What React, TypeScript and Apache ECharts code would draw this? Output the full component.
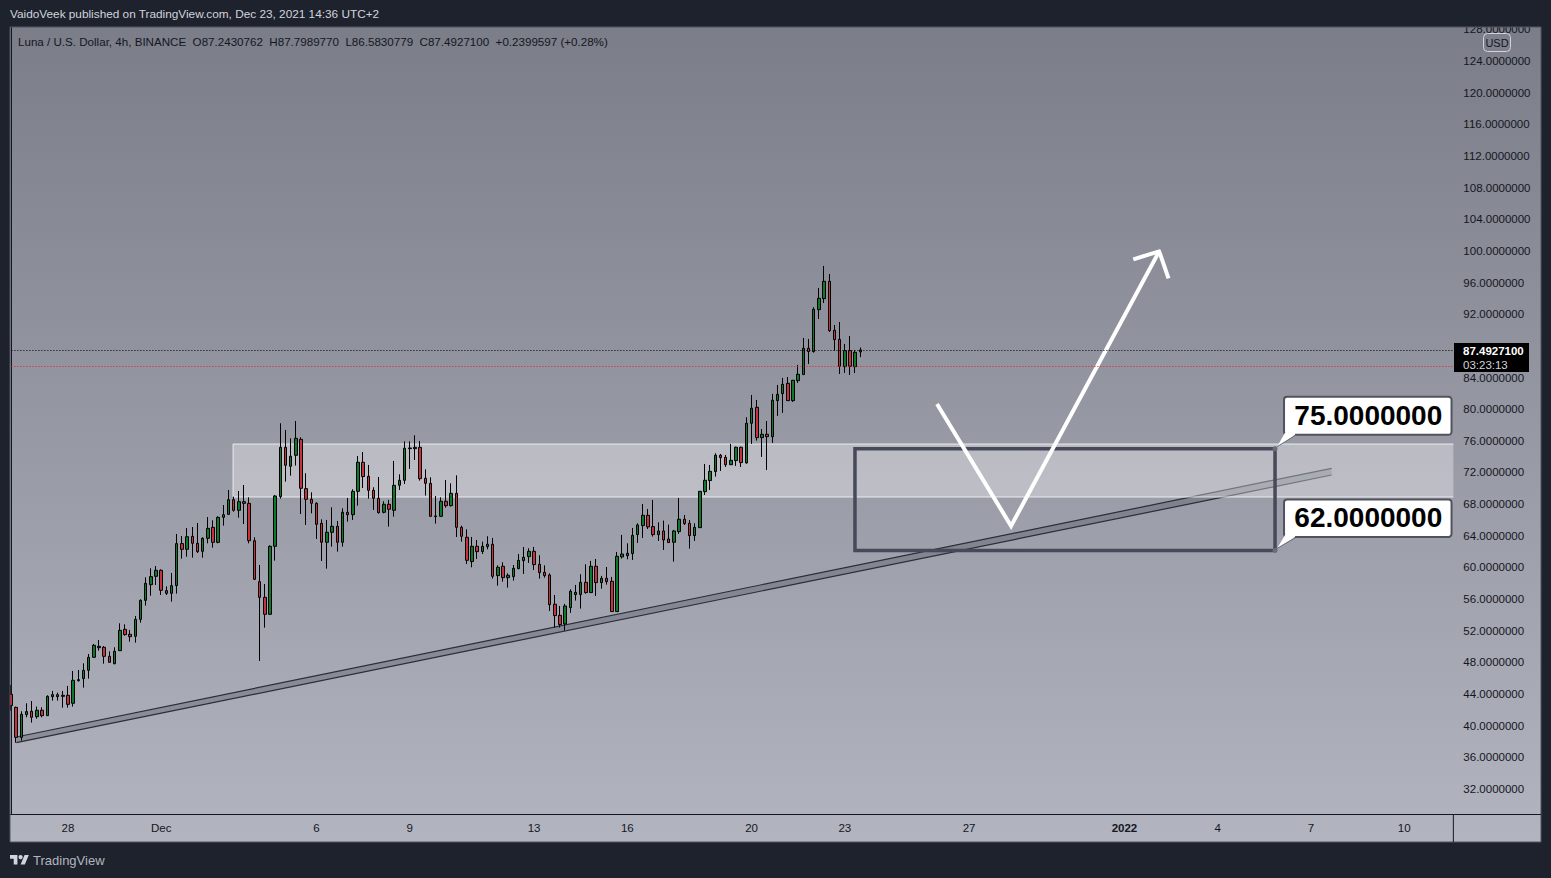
import React, { useEffect, useRef } from "react";
import * as echarts from "echarts";

// [open, close, low, high] of each 4h candle
const candles: number[][] = [
  [43.97,42.54,41.90,45.15],[42.32,38.53,37.86,42.41],[38.53,41.44,38.11,41.82],[41.40,41.78,41.06,42.83],[41.82,41.06,40.39,43.12],
  [41.14,41.95,40.89,42.41],[41.95,41.27,41.06,42.32],[41.27,43.71,41.27,43.84],[43.67,43.92,43.17,44.39],[43.92,43.67,43.17,44.18],
  [43.84,43.71,42.28,44.39],[43.84,42.70,42.28,45.02],[42.83,45.74,42.41,46.92],[45.69,45.82,45.57,47.04],[45.95,47.00,44.81,47.88],
  [47.00,48.64,45.95,49.06],[48.64,50.16,48.60,50.33],[50.03,49.86,49.48,50.83],[49.91,48.77,47.84,50.07],[48.77,48.01,47.97,49.40],
  [47.84,49.40,47.76,49.91],[49.48,52.05,49.48,52.94],[52.18,51.51,51.38,52.81],[51.55,51.25,50.62,52.10],[51.30,53.44,50.50,53.87],
  [53.44,55.84,53.02,55.97],[55.84,57.99,55.17,58.75],[57.82,58.84,56.43,59.89],[58.88,59.64,57.78,60.18],[59.64,57.11,56.52,59.76],
  [57.07,56.73,56.52,57.61],[56.73,57.70,55.68,59.30],[57.70,63.01,56.69,64.23],[63.01,62.29,61.11,63.97],[62.29,63.89,61.36,64.98],
  [63.93,63.05,61.24,65.11],[63.05,62.00,61.83,65.62],[62.04,63.68,61.24,63.81],[63.68,64.94,63.05,66.37],[65.07,63.17,62.50,65.95],
  [63.17,66.33,63.05,66.46],[66.33,66.67,65.28,67.89],[66.71,68.57,66.67,69.79],[68.57,67.22,67.05,68.94],[67.22,68.31,66.29,69.66],
  [68.31,68.10,65.49,70.42],[68.10,63.38,63.05,68.86],[63.38,58.50,58.41,63.81],[58.20,56.22,48.18,60.31],[56.22,54.08,52.39,57.91],
  [54.08,62.67,53.99,62.79],[62.67,69.03,60.86,69.15],[68.95,75.18,68.70,78.22],[75.18,72.91,70.84,77.37],[72.78,74.05,71.60,76.32],
  [74.17,76.32,72.87,78.51],[76.19,70.00,66.76,76.45],[69.96,68.61,65.37,71.90],[68.61,68.11,66.84,69.50],[68.11,65.45,63.60,68.23],
  [65.58,63.18,60.82,66.08],[63.18,64.44,59.85,66.00],[64.44,65.20,62.63,67.60],[65.20,63.18,62.00,65.87],[63.18,66.97,62.63,67.47],
  [66.97,66.67,65.79,68.78],[66.67,69.62,66.00,69.88],[69.62,73.29,67.81,74.09],[73.29,71.48,70.04,74.59],[71.52,69.75,68.70,72.95],
  [69.75,68.74,67.26,70.13],[68.74,66.93,66.80,71.43],[66.97,67.98,66.84,68.36],[67.98,67.35,65.16,68.53],[67.22,70.38,66.42,73.46],
  [70.38,71.01,69.79,71.77],[71.01,75.06,70.55,75.94],[75.01,75.10,72.45,75.94],[75.01,75.18,73.58,76.70],[75.18,71.22,70.97,75.98],
  [71.27,70.63,69.08,72.40],[70.63,66.46,66.42,71.39],[66.51,66.42,65.54,69.03],[66.46,68.36,66.42,68.86],[68.36,67.81,67.56,71.05],
  [67.81,69.37,67.69,70.63],[69.37,65.07,63.85,71.64],[65.07,63.94,63.26,65.28],[63.81,60.90,60.44,64.82],[60.74,62.67,60.02,63.85],
  [62.67,62.00,61.07,63.47],[62.00,62.67,61.70,63.26],[62.63,62.93,62.29,63.94],[62.93,58.88,58.59,63.73],[58.97,60.02,57.70,60.27],
  [60.15,58.71,58.21,60.65],[58.71,59.01,57.45,59.26],[58.84,59.89,58.33,60.31],[59.85,60.90,59.77,61.70],[60.86,61.28,59.18,62.59],
  [61.37,62.04,60.57,62.42],[62.04,60.36,59.68,62.59],[60.40,59.35,58.59,61.54],[59.39,58.97,58.71,60.27],[59.05,55.30,54.50,59.26],
  [55.35,53.91,52.40,56.52],[53.95,52.78,52.40,55.13],[52.86,55.13,52.02,55.39],[54.92,56.99,54.25,57.24],[56.57,56.86,55.81,57.79],
  [56.57,58.12,54.80,59.14],[58.12,56.82,56.69,60.40],[56.82,60.15,56.78,60.82],[60.15,58.08,56.40,61.07],[58.08,58.63,57.32,58.93],
  [58.63,58.21,57.83,60.06],[58.25,54.42,54.42,58.80],[54.42,61.41,54.42,61.96],[61.33,61.70,61.12,64.11],[61.49,61.79,61.03,63.05],
  [61.75,64.06,60.95,64.99],[64.15,65.37,63.10,65.58],[65.29,66.59,63.73,68.02],[66.59,65.12,64.86,67.39],[65.16,64.15,63.90,68.53],
  [64.15,64.61,63.35,65.71],[64.61,63.47,62.21,65.92],[63.60,63.14,63.10,65.41],[63.18,64.61,60.74,64.74],[64.53,66.09,64.23,68.78],
  [66.09,65.54,65.37,66.63],[65.58,64.02,62.38,66.00],[64.02,65.07,63.35,65.58],[65.03,69.62,65.03,69.67],[69.58,71.02,69.16,73.08],
  [70.98,72.15,69.80,72.95],[72.11,74.18,71.48,74.43],[74.18,73.88,72.20,74.34],[73.92,72.98,72.70,74.22],[72.98,73.54,72.95,75.61],
  [73.50,75.19,72.83,75.27],[75.19,73.25,72.70,75.27],[73.21,78.22,73.12,78.98],[78.22,80.12,75.61,81.80],[80.24,76.41,76.03,81.17],
  [76.41,76.83,73.97,77.50],[76.83,76.53,72.32,78.51],[76.53,81.13,75.73,81.93],[81.08,81.88,79.15,83.06],[81.97,83.15,79.53,83.95],
  [83.27,81.08,81.08,84.07],[81.08,83.65,80.92,83.70],[83.61,84.41,83.32,85.59],[84.37,87.70,84.37,89.00],[87.70,87.28,85.72,88.88],
  [87.28,92.62,87.15,92.88],[92.58,94.01,91.40,95.32],[93.97,96.16,93.42,98.10],[96.16,89.93,89.76,97.09],[89.97,88.79,87.40,90.64],
  [88.83,85.42,84.45,91.02],[85.38,87.40,84.58,88.24],[87.40,85.42,84.33,89.25],[85.38,87.19,84.58,87.49],[87.24,87.49,86.58,87.80],
];

const barSlots = 279; // visible 4h slots, including the empty future
const categories = Array.from({ length: barSlots }, (_, i) => String(i));
const xTickSlots = [11, 29, 59, 77, 101, 119, 143, 161, 185, 215, 233, 251, 269];
const xTickLabels = ["28", "Dec", "6", "9", "13", "16", "20", "23", "27", "2022", "4", "7", "10"];
// 88 is hidden behind the last-price tag in the reference
const yTicks = [32, 36, 40, 44, 48, 52, 56, 60, 64, 68, 72, 76, 80, 84, 92, 96, 100, 104, 108, 112, 116, 120, 124, 128];

const lastPriceLabel = "87.4927100";
const lastPriceLevel = 87.42;
const redLevel = 85.4;
const zoneTop = 75.6;
const zoneBottom = 68.9;
const zoneStart = 42.87;
const boxLevels = [75, 62.15];
const boxSlots = [162.96, 244.07];
const calloutTexts = ["75.0000000", "62.0000000"];
const channelTop = [[1.02, 38.57], [255, 72.53]];
const channelBottom = [[1.02, 37.86], [255, 71.68]];
const vArrow = [[178.8, 80.66], [193.1, 65.24], [221.7, 99.95]];
const arrowHeadA = [216.7, 98.94];
const arrowHeadB = [223.5, 96.54];

const titleText = "VaidoVeek published on TradingView.com, Dec 23, 2021 14:36 UTC+2";
const legendText = "Luna / U.S. Dollar, 4h, BINANCE  O87.2430762  H87.7989770  L86.5830779  C87.4927100  +0.2399597 (+0.28%)";

const UI_FONT = "'Liberation Sans', Arial, sans-serif";
const DARK = "#1e222d";
const TEXT = "#131722";

export default function App() {
  const ref = useRef<HTMLDivElement>(null);
  useEffect(() => {
    if (!ref.current) return;
    echarts.graphic.registerShape(
      "tvlogo",
      echarts.graphic.extendPath("M14 22H7V11H0V4h14v18zM28 22h-8l7.5-18h8L28 22z", {})
    );
    const chart = echarts.init(ref.current, null, { renderer: "svg" });
    const option: any = {
      animation: false,
      backgroundColor: "transparent",
      grid: { left: 8.41, top: 27, width: 1444.94, height: 787, containLabel: false },
      xAxis: [
        {
          type: "category",
          data: categories,
          axisLine: { show: true, lineStyle: { color: TEXT, width: 1 } },
          axisTick: { show: false },
          splitLine: { show: false },
          axisLabel: {
            margin: 8,
            color: TEXT,
            fontFamily: UI_FONT,
            fontSize: 11.5,
            hideOverlap: false,
            interval: (i: number) => xTickSlots.includes(i),
            formatter: (_v: string, i: number) => {
              const label = xTickLabels[xTickSlots.indexOf(i)];
              return label === "2022" ? "{b|2022}" : label;
            },
            rich: { b: { fontWeight: "bold", fontSize: 11.5, fontFamily: UI_FONT, color: TEXT } },
          },
        },
        { type: "value", show: false, min: -0.5, max: barSlots - 0.5, splitLine: { show: false } },
      ],
      yAxis: {
        type: "value",
        position: "right",
        min: 28.84,
        max: 128.3,
        axisLine: { show: true, lineStyle: { color: TEXT, width: 1 } },
        axisTick: { show: false },
        splitLine: { show: false },
        axisLabel: {
          customValues: yTicks,
          margin: 10,
          padding: [1, 0, 0, 0],
          color: TEXT,
          fontFamily: UI_FONT,
          fontSize: 11.5,
          formatter: (v: number) => v.toFixed(7),
        },
      },
      series: [
        {
          type: "custom",
          name: "channel",
          xAxisIndex: 1,
          z: 1,
          data: [[0, 0]],
          renderItem: (_p: any, api: any) => {
            const t = channelTop.map((d) => api.coord(d));
            const b = channelBottom.map((d) => api.coord(d));
            const stroke = { stroke: "#2a2e39", lineWidth: 1.2, fill: "none" };
            return {
              type: "group",
              children: [
                { type: "polygon", shape: { points: [t[0], t[1], b[1], b[0]] }, style: { fill: "rgba(67,70,81,0.3)" } },
                { type: "polyline", shape: { points: t }, style: stroke },
                { type: "polyline", shape: { points: b }, style: stroke },
              ],
            };
          },
        },
        {
          type: "custom",
          name: "zone",
          xAxisIndex: 1,
          z: 2,
          data: [[0, 0]],
          renderItem: (_p: any, api: any) => {
            const a = api.coord([zoneStart, zoneTop]);
            const c = api.coord([barSlots - 0.5, zoneBottom]);
            return {
              type: "group",
              children: [
                {
                  type: "rect",
                  shape: { x: a[0], y: a[1], width: c[0] - a[0], height: c[1] - a[1] },
                  style: { fill: "rgba(255,255,255,0.34)" },
                },
                {
                  type: "polyline",
                  shape: { points: [[c[0], a[1]], [a[0], a[1]], [a[0], c[1]], [c[0], c[1]]] },
                  style: { fill: "none", stroke: "rgba(255,255,255,0.75)", lineWidth: 1 },
                },
              ],
            };
          },
        },
        {
          type: "candlestick",
          name: "LUNAUSD",
          z: 3,
          barWidth: 3,
          data: candles,
          itemStyle: {
            color: "#0b7a2a",
            color0: "#c8323f",
            borderColor: "#000000",
            borderColor0: "#000000",
            borderWidth: 1,
          },
          markLine: {
            silent: true,
            symbol: "none",
            label: { show: false },
            data: [
              { yAxis: lastPriceLevel, lineStyle: { color: "#000000", type: [1, 2], width: 1 } },
              { yAxis: redLevel, lineStyle: { color: "#f01a1a", type: [1, 2], width: 1 } },
            ],
          },
        },
        {
          type: "custom",
          name: "drawings",
          xAxisIndex: 1,
          z: 4,
          data: [[0, 0]],
          renderItem: (_p: any, api: any) => {
            const tl = api.coord([boxSlots[0], boxLevels[0]]);
            const br = api.coord([boxSlots[1], boxLevels[1]]);
            const arrow = vArrow.map((d) => api.coord(d));
            const tip = arrow[2];
            const ha = api.coord(arrowHeadA);
            const hb = api.coord(arrowHeadB);
            const children: any[] = [
              {
                type: "rect",
                shape: { x: tl[0], y: tl[1], width: br[0] - tl[0], height: br[1] - tl[1] },
                style: { fill: "none", stroke: "#464959", lineWidth: 3.5 },
              },
              { type: "polyline", shape: { points: arrow }, style: { fill: "none", stroke: "#ffffff", lineWidth: 4, lineJoin: "miter" } },
              { type: "polyline", shape: { points: [ha, tip, hb] }, style: { fill: "none", stroke: "#ffffff", lineWidth: 4, lineJoin: "round" } },
            ];
            [tl[1], br[1]].forEach((y: number, k: number) => {
              const ax = br[0];
              const bx = ax + 9;
              const bw = 167.5;
              const bh = k === 0 ? 38 : 37.5;
              const by = y - (k === 0 ? 52 : 51);
              const bot = by + bh;
              children.push(
                { type: "circle", shape: { cx: ax, cy: y, r: 2.5 }, style: { fill: "#6a6d78" } },
                { type: "rect", shape: { x: bx, y: by, width: bw, height: bh, r: 3 }, style: { fill: "#ffffff", stroke: "#50535e", lineWidth: 2 } },
                { type: "polygon", shape: { points: [[bx + 1, bot - 2], [bx + 11, bot - 2], [bx + 11, bot + 0], [ax + 2, y - 2]] }, style: { fill: "#ffffff" } },
                { type: "line", shape: { x1: bx + 11, y1: bot + 1, x2: ax + 2, y2: y - 2 }, style: { stroke: "#6a6d78", lineWidth: 1 } },
                {
                  type: "text",
                  style: {
                    text: calloutTexts[k],
                    x: bx + bw / 2 + 0.5,
                    y: by + bh / 2 - 0.5,
                    fill: "#000000",
                    font: "bold 28px 'Liberation Sans', Arial, sans-serif",
                    textAlign: "center",
                    textVerticalAlign: "middle",
                  },
                }
              );
            });
            return { type: "group", children };
          },
        },
      ],
      graphic: {
        elements: [
          { type: "rect", z: 100, shape: { x: 0, y: 0, width: 1551, height: 27 }, style: { fill: DARK } },
          { type: "rect", z: 100, shape: { x: 0, y: 842, width: 1551, height: 36 }, style: { fill: DARK } },
          { type: "rect", z: 100, shape: { x: 0, y: 0, width: 10, height: 878 }, style: { fill: DARK } },
          { type: "rect", z: 100, shape: { x: 1541, y: 0, width: 10, height: 878 }, style: { fill: DARK } },
          { type: "rect", z: 101, shape: { x: 10, y: 27, width: 1531, height: 815 }, style: { fill: "none", stroke: "#535662", lineWidth: 1 } },
          { type: "line", z: 101, shape: { x1: 1453.35, y1: 814, x2: 1453.35, y2: 842 }, style: { stroke: TEXT, lineWidth: 1 } },
          { type: "line", z: 101, shape: { x1: 1453.35, y1: 814.5, x2: 1541, y2: 814.5 }, style: { stroke: TEXT, lineWidth: 1 } },
          { type: "text", z: 102, style: { text: titleText, x: 10, y: 14, fill: "#d1d4dc", font: `11.8px ${UI_FONT}`, textVerticalAlign: "middle" } },
          { type: "text", z: 102, style: { text: legendText, x: 18, y: 41.5, fill: TEXT, font: `11.6px ${UI_FONT}`, textVerticalAlign: "middle" } },
          { type: "rect", z: 102, shape: { x: 1483.5, y: 33.5, width: 27, height: 18, r: 4 }, style: { fill: "#7e808b", stroke: "#d1d4dc", lineWidth: 1 } },
          { type: "text", z: 103, style: { text: "USD", x: 1497, y: 43, fill: TEXT, font: `11px ${UI_FONT}`, textAlign: "center", textVerticalAlign: "middle" } },
          { type: "rect", z: 102, shape: { x: 1454, y: 343, width: 75, height: 29 }, style: { fill: "#000000" } },
          { type: "text", z: 103, style: { text: lastPriceLabel, x: 1463, y: 350.5, fill: "#ffffff", font: `bold 11.5px ${UI_FONT}`, textVerticalAlign: "middle" } },
          { type: "text", z: 103, style: { text: "03:23:13", x: 1463, y: 365, fill: "#d1d4dc", font: `11.5px ${UI_FONT}`, textVerticalAlign: "middle" } },
          { type: "tvlogo", z: 102, x: 10, y: 852.9, scaleX: 0.53, scaleY: 0.53, style: { fill: "#d1d4dc" } },
          { type: "circle", z: 102, shape: { cx: 20.6, cy: 857.1, r: 2.1 }, style: { fill: "#d1d4dc" } },
          { type: "text", z: 102, style: { text: "TradingView", x: 33, y: 860.5, fill: "#b2b5be", font: `13px ${UI_FONT}`, textVerticalAlign: "middle" } },
        ],
      },
    };
    chart.setOption(option);
    return () => chart.dispose();
  }, []);
  return (
    <div
      style={{
        position: "fixed",
        left: 0,
        top: 0,
        width: 1551,
        height: 878,
        background: "linear-gradient(to bottom, #7b7d88 27px, #b2b4bf 842px)",
      }}
    >
      <div ref={ref} style={{ width: 1551, height: 878 }} />
    </div>
  );
}
